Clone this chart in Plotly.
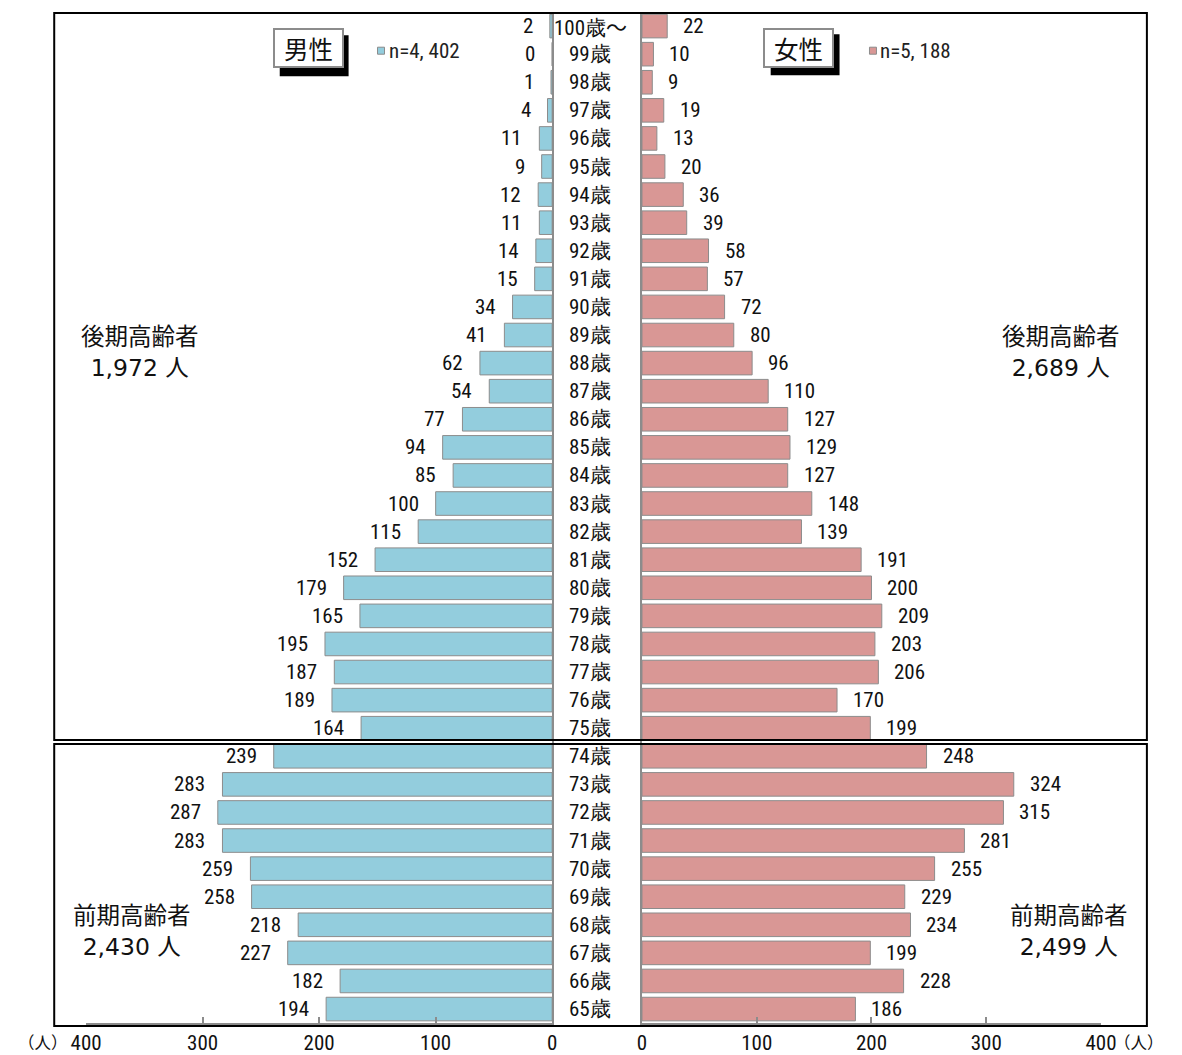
import plotly.graph_objects as go

# Age classes, oldest at the top
ages = ["100歳～", "99歳", "98歳", "97歳", "96歳", "95歳", "94歳", "93歳", "92歳",
        "91歳", "90歳", "89歳", "88歳", "87歳", "86歳", "85歳", "84歳", "83歳",
        "82歳", "81歳", "80歳", "79歳", "78歳", "77歳", "76歳", "75歳", "74歳",
        "73歳", "72歳", "71歳", "70歳", "69歳", "68歳", "67歳", "66歳", "65歳"]

male = [2, 0, 1, 4, 11, 9, 12, 11, 14, 15, 34, 41, 62, 54, 77, 94, 85, 100,
        115, 152, 179, 165, 195, 187, 189, 164, 239, 283, 287, 283, 259, 258,
        218, 227, 182, 194]

female = [22, 10, 9, 19, 13, 20, 36, 39, 58, 57, 72, 80, 96, 110, 127, 129, 127,
          148, 139, 191, 200, 209, 203, 206, 170, 199, 248, 324, 315, 281, 255,
          229, 234, 199, 228, 186]

axis_ticks = [0, 100, 200, 300, 400]
male_title, female_title = "男性", "女性"
male_n, female_n = "n=4, 402", "n=5, 188"
late_label, early_label = "後期高齢者", "前期高齢者"
male_late, male_early = "1,972 人", "2,430 人"
female_late, female_early = "2,689 人", "2,499 人"
unit_label = "（人）"

W, H = 1182, 1055
BLUE, PINK = "#93CDDD", "#D99795"
GRAY = "#8C8C8C"
NARROW = "Roboto Condensed, Liberation Sans Narrow, Arial Narrow, sans-serif"
CJK = "Noto Sans CJK JP, sans-serif"
WIDE = "DejaVu Sans, Noto Sans CJK JP, sans-serif"

# page geometry: layout positions below are given on a 1182 x 1055 grid and
# converted to paper fractions of the drawing area
OX, SX, SY = 14.7, 0.975, 0.996


def fx(x):
    return (x - OX) / SX


def fy(y):
    return y / SY


def px(x):
    return fx(x) / W


def py(y):
    return 1 - fy(y) / H


def paper_text(x, y, text, font, xanchor="center", **kw):
    return dict(x=px(x), y=py(y), xref="paper", yref="paper", text=text,
                showarrow=False, xanchor=xanchor, yanchor="middle", font=font, **kw)


def age_text(a):
    # the wave dash after 100 is set in the CJK face
    return a.replace("～", "<span style=\"font-family:'Noto Sans CJK JP'\">～</span>")


fig = go.Figure()
fig.add_trace(go.Bar(x=male, y=ages, orientation="h", xaxis="x", yaxis="y",
                     width=0.84, marker=dict(color=BLUE, line=dict(color=GRAY, width=1)),
                     hoverinfo="x+y", showlegend=False))
fig.add_trace(go.Bar(x=female, y=ages, orientation="h", xaxis="x2", yaxis="y2",
                     width=0.84, marker=dict(color=PINK, line=dict(color=GRAY, width=1)),
                     hoverinfo="x+y", showlegend=False))

num_font = dict(family=NARROW, size=21, color="#111")
xcommon = dict(tickvals=axis_ticks, showgrid=False, zeroline=False, showline=True,
               linecolor=GRAY, linewidth=2, ticks="inside", ticklen=6, tickwidth=2,
               tickcolor=GRAY, tickfont=num_font, ticklabelstandoff=0,
               fixedrange=True)
ycommon = dict(type="category", categoryorder="array", categoryarray=ages,
               range=[len(ages) - 0.5, -0.5], domain=[py(1019), py(12)],
               showticklabels=False, ticks="", showgrid=False, zeroline=False,
               showline=True, linecolor=GRAY, linewidth=2, fixedrange=True)

annotations = []
# value labels at the bar ends
for a, m, f in zip(ages, male, female):
    annotations.append(dict(x=m, y=a, xref="x", yref="y", text=str(m), showarrow=False,
                            xanchor="right", yanchor="middle", xshift=-15, font=num_font))
    annotations.append(dict(x=f, y=a, xref="x2", yref="y2", text=str(f), showarrow=False,
                            xanchor="left", yanchor="middle", xshift=14, font=num_font))
    # age class labels in the centre column
    annotations.append(dict(x=px(590), y=a, xref="paper", yref="y", text=age_text(a),
                            showarrow=False, xanchor="center", yanchor="middle",
                            font=num_font))

# sex headings with drop shadow
for title, cx, cy in [(male_title, 307.5, 48), (female_title, 799, 47.5)]:
    annotations.append(paper_text(cx, cy, title,
                                  dict(family=CJK, size=24.5, color="#111"),
                                  bgcolor="white", bordercolor=GRAY, borderwidth=2,
                                  borderpad=0, width=67, height=36))

# sample sizes
for txt, x0 in [(male_n, 386), (female_n, 879)]:
    annotations.append(paper_text(x0, 51, txt,
                                  dict(family=NARROW, size=21, color="#222"),
                                  xanchor="left"))

# age group totals
for title, total, cx, cy in [(late_label, male_late, 139, 351.5),
                             (early_label, male_early, 131, 927.5),
                             (late_label, female_late, 1062, 351.5),
                             (early_label, female_early, 1070, 927.5)]:
    annotations.append(paper_text(cx, cy, title + "<br>" + total,
                                  dict(family=WIDE, size=23.5, color="#111")))

# units, kept inside the page edges
unit_font = dict(family=CJK, size=16.5, color="#111")
unit_y = 1 - 1042 / H
annotations.append(dict(x=0, y=unit_y, xref="paper", yref="paper", text=unit_label,
                        showarrow=False, xanchor="left", yanchor="middle", font=unit_font))
annotations.append(dict(x=1, y=unit_y, xref="paper", yref="paper", text=unit_label,
                        showarrow=False, xanchor="right", yanchor="middle", font=unit_font))


def rect(x0, x1, y0, y1, **kw):
    return dict(type="rect", xref="paper", yref="paper", x0=px(x0), x1=px(x1),
                y0=py(y1), y1=py(y0), **kw)


shapes = [
    # frames around the two age groups
    rect(53, 1148, 13, 737, line=dict(color="black", width=2)),
    rect(53, 1148, 741, 1022, line=dict(color="black", width=2)),
    # heading shadows
    rect(279, 348, 35, 76, fillcolor="black", line=dict(width=0)),
    rect(771, 840, 34, 75, fillcolor="black", line=dict(width=0)),
    # legend keys
    rect(377, 384, 47, 54, fillcolor=BLUE, line=dict(color=GRAY, width=1)),
    rect(870, 877, 47, 54, fillcolor=PINK, line=dict(color=GRAY, width=1)),
]

fig.update_layout(
    width=W, height=H, margin=dict(l=0, r=0, t=0, b=0),
    paper_bgcolor="white", plot_bgcolor="white",
    xaxis=dict(domain=[px(85), px(552)], range=[400, 0], anchor="y", **xcommon),
    xaxis2=dict(domain=[px(642), px(1102)], range=[0, 400], anchor="y2", **xcommon),
    yaxis=dict(anchor="x", side="right", **ycommon),
    yaxis2=dict(anchor="x2", side="left", matches="y", **ycommon),
    annotations=annotations, shapes=shapes, bargap=0.16,
)

fig.write_html("out.html")
